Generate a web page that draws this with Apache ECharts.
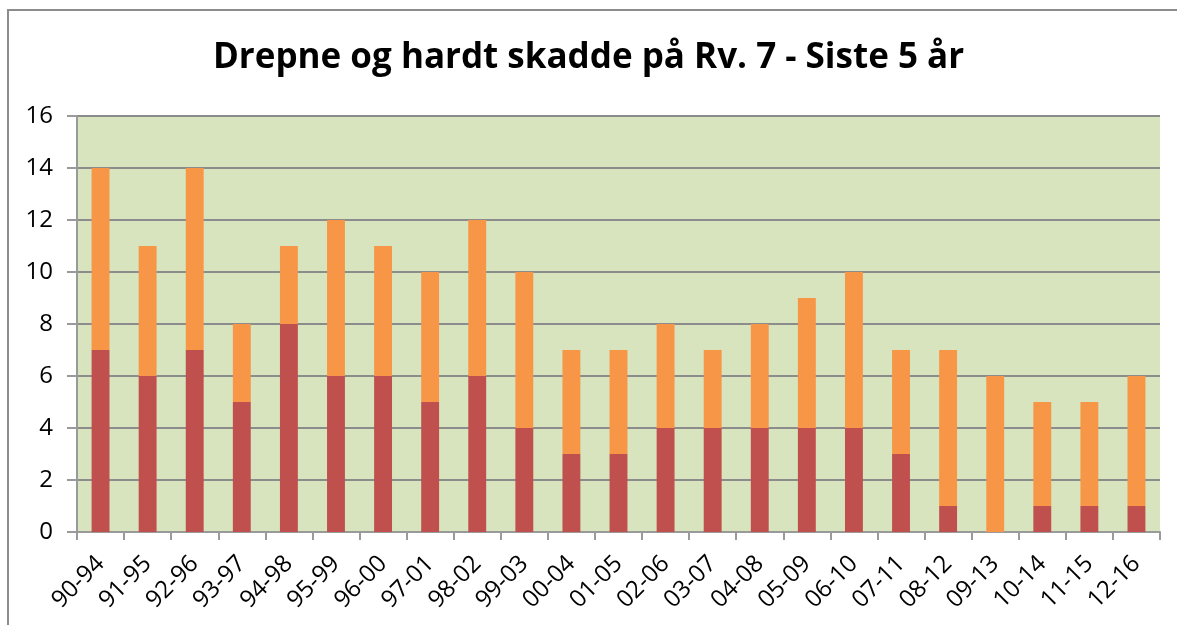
<!DOCTYPE html>
<html>
<head>
<meta charset="utf-8">
<script src="https://cdn.jsdelivr.net/npm/echarts@6/dist/echarts.min.js"></script>
<style>
  html, body { margin: 0; padding: 0; background: #fff; }
  #chart { width: 1177px; height: 625px; }
</style>
</head>
<body>
<div id="chart"></div>
<script>
// Five-year rolling periods
const periods = ['90-94','91-95','92-96','93-97','94-98','95-99','96-00','97-01','98-02','99-03',
  '00-04','01-05','02-06','03-07','04-08','05-09','06-10','07-11','08-12','09-13','10-14','11-15','12-16'];
// Killed (lower segment)
const drepne = [7,6,7,5,8,6,6,5,6,4,3,3,4,4,4,4,4,3,1,0,1,1,1];
// Seriously injured (upper segment)
const hardtSkadde = [7,5,7,3,3,6,5,5,6,6,4,4,4,3,4,5,6,4,6,6,4,4,5];
const yTicks = [0,2,4,6,8,10,12,14,16];

const chart = echarts.init(document.getElementById('chart'));
const font = "'Open Sans', 'Liberation Sans', sans-serif";

chart.setOption({
  animation: false,
  backgroundColor: '#ffffff',
  title: {
    text: 'Drepne og hardt skadde på Rv. 7 - Siste 5 år',
    left: 'center',
    top: 36,
    textStyle: { fontFamily: font, fontWeight: 'bold', fontSize: 35, color: '#000' }
  },
  graphic: [{
    type: 'rect',
    shape: { x: 8, y: 10, width: 1250, height: 700 },
    style: { fill: 'none', stroke: '#8c8c8c', lineWidth: 2 },
    silent: true
  }],
  grid: {
    left: 77, right: 17, top: 116, bottom: 93,
    show: true, backgroundColor: '#d7e4bd', borderWidth: 0
  },
  xAxis: {
    type: 'category',
    data: periods,
    axisLine: { show: true, lineStyle: { color: '#9a9a9a', width: 2 } },
    axisTick: { show: true, length: 8, lineStyle: { color: '#9a9a9a', width: 2 } },
    axisLabel: { rotate: 45, interval: 0, margin: 28, fontFamily: font, fontSize: 24, color: '#000' }
  },
  yAxis: {
    type: 'value',
    min: yTicks[0], max: yTicks[yTicks.length - 1], interval: 2,
    axisLine: { show: true, lineStyle: { color: '#9a9a9a', width: 2 } },
    axisTick: { show: true, length: 10, lineStyle: { color: '#9a9a9a', width: 2 } },
    splitLine: { show: true, lineStyle: { color: '#8c8c8c', width: 2 } },
    axisLabel: { margin: 24, fontFamily: font, fontSize: 24, color: '#000' }
  },
  series: [
    {
      name: 'Drepne',
      type: 'bar',
      stack: 'total',
      data: drepne,
      barWidth: '38%',
      itemStyle: { color: '#c0504d' }
    },
    {
      name: 'Hardt skadde',
      type: 'bar',
      stack: 'total',
      data: hardtSkadde,
      barWidth: '38%',
      itemStyle: { color: '#f79646' }
    }
  ]
});
</script>
</body>
</html>
